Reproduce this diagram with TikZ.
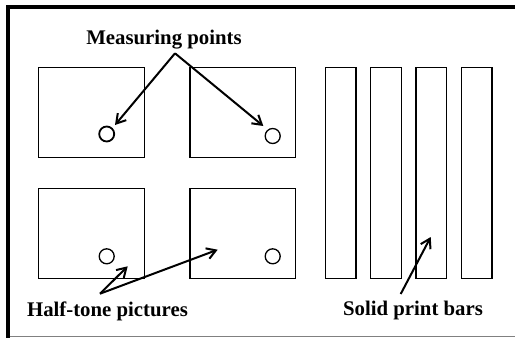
\documentclass[tikz,border=0pt]{standalone}
\usepackage{fontspec}
\setmainfont{Liberation Serif}
\usetikzlibrary{arrows.meta}
\begin{document}
\begin{tikzpicture}[x=1pt,y=-1pt,
  pic/.style={draw=black,line width=1.3pt},
  mpoint/.style={circle,draw=black,line width=1.3pt,minimum size=15pt,inner sep=0pt},
  lbl/.style={font=\fontsize{20.8pt}{24pt}\selectfont\bfseries,anchor=base,inner sep=0pt},
  pointer/.style={line width=2pt,-{Straight Barb[length=9pt,width=11pt,line width=2pt]}}]
\useasboundingbox (0,0) rectangle (515,338);
% frame
\draw[line width=4pt] (6,7) -- (515,7);
\draw[line width=4pt] (8,5) -- (8,338);
\draw[line width=1pt,gray] (10,336.5) -- (515,336.5);
% half-tone pictures
\draw[pic] (38.3,67.3) rectangle (144.3,157.7);
\draw[pic] (190,67.3) rectangle (295.7,157.7);
\draw[pic] (38.3,188.7) rectangle (144.3,278.7);
\draw[pic] (190,188.7) rectangle (295.7,278.7);
% solid bars
\draw[pic] (325.7,67.3) rectangle (356,278.7);
\draw[pic] (370.7,67.3) rectangle (401.3,278.7);
\draw[pic] (416,67.3) rectangle (446.7,278.7);
\draw[pic] (461.3,67.3) rectangle (492,278.7);
% measuring points
\node[mpoint,line width=1.8pt] (c1) at (106.7,134) {};
\node[mpoint] (c2) at (272.7,136) {};
\node[mpoint] (c3) at (106.7,256.3) {};
\node[mpoint] (c4) at (272.7,256.3) {};
% labels
\node[lbl] (mp) at (164,44) {Measuring points};
\node[lbl] (ht) at (107.5,316) {Half-tone pictures};
\node[lbl] (sp) at (413,315.7) {Solid print bars};
% pointers
\coordinate (mpa) at (175,53.3);
\coordinate (t1) at (115,125);
\coordinate (t2) at (263.3,126);
\coordinate (hta) at (100,293.7);
\coordinate (t3) at (127.7,266.3);
\coordinate (t4) at (217.7,249.7);
\coordinate (spa) at (400.7,294);
\coordinate (t5) at (430.7,237);
\draw[pointer] (mpa) -- (t1);
\draw[pointer] (mpa) -- (t2);
\draw[pointer] (hta) -- (t3);
\draw[pointer] (hta) -- (t4);
\draw[pointer] (spa) -- (t5);
\end{tikzpicture}
\end{document}
